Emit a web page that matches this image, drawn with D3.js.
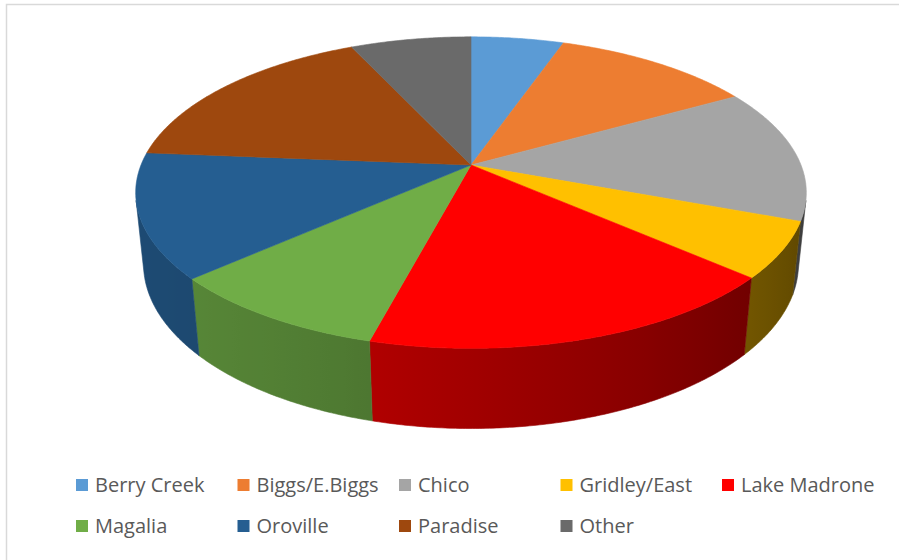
<!DOCTYPE html>
<html><head><meta charset="utf-8">
<script src="https://cdn.jsdelivr.net/npm/d3@7/dist/d3.min.js"></script>
<style>html,body{margin:0;padding:0;background:#fff;}svg{display:block;}</style>
</head><body>
<svg id="chart" width="899" height="560"></svg>
<script>
const categories = ["Berry Creek","Biggs/E.Biggs","Chico","Gridley/East","Lake Madrone","Magalia","Oroville","Paradise","Other"];
const values = [5.3, 11.5, 13.9, 5.8, 17.6, 9.3, 12.9, 16.8, 6.9];
const colors = ["#5B9BD5","#ED7D31","#A5A5A5","#FFC000","#FF0000","#70AD47","#255E91","#9E480E","#6A6A6A"];

const W = 899, Hgt = 560;
const svg = d3.select("#chart");
const defs = svg.append("defs");

// chart border (extends beyond the photographed area)
svg.append("rect").attr("x",6.5).attr("y",4.5).attr("width",W+10).attr("height",Hgt+10)
  .attr("fill","#fff").attr("stroke","#d9d9d9").attr("stroke-width",1.5);

// perspective projection of a tilted cylinder
const cx = 471, cy = 165, FX = 1650, FY = 1627, DIST = 5, TH = 0.25;
const tilt = Math.asin(0.4636), S = Math.sin(tilt), C = Math.cos(tilt);
function proj(theta, depth){
  const x = Math.sin(theta), z = -Math.cos(theta), y = -depth*TH;
  const d = DIST - (y*S + z*C);
  return [cx + FX*x/d, cy + FY*(z*S - y*C)/d];
}
const line = d3.line().curve(d3.curveLinear);

const arcs = d3.pie().sort(null).value(d => d)(values);
const step = Math.PI/360;
const visMin = Math.acos(-1/(DIST*C)), visMax = 2*Math.PI - visMin;
const lightAng = 250*Math.PI/180;
function shade(col, theta){
  const f = 0.555 + 0.236*Math.cos(theta - lightAng);
  const c = d3.rgb(col);
  return d3.rgb(c.r*f, c.g*f, c.b*f).formatHex();
}

const gSide = svg.append("g");
arcs.forEach((a,i) => {
  const a0 = Math.max(a.startAngle, visMin), a1 = Math.min(a.endAngle, visMax);
  if (a1 <= a0) return;
  const n = Math.max(2, Math.ceil((a1-a0)/step));
  const topPts = [], botPts = [];
  for (let k=0;k<=n;k++){
    const t = a0 + (a1-a0)*k/n;
    topPts.push(proj(t,0)); botPts.push(proj(t,1));
  }
  const xs = topPts.map(p=>p[0]);
  const xMin = d3.min(xs), xMax = d3.max(xs);
  const off = d3.scaleLinear().domain([xMin, xMax]).range([0,1]);
  const gid = "side"+i;
  const grad = defs.append("linearGradient").attr("id",gid)
    .attr("gradientUnits","userSpaceOnUse")
    .attr("x1",xMin).attr("x2",xMax).attr("y1",0).attr("y2",0);
  const stops = [];
  for (let k=0;k<=n;k+=4){
    const t = a0 + (a1-a0)*k/n;
    stops.push({o: off(topPts[k][0]), c: shade(colors[i], t)});
  }
  stops.push({o: off(topPts[n][0]), c: shade(colors[i], a1)});
  stops.sort((p,q)=>p.o-q.o);
  stops.forEach(s => grad.append("stop").attr("offset", s.o).attr("stop-color", s.c));
  gSide.append("path")
    .attr("d", line(topPts.concat(botPts.slice().reverse())) + "Z")
    .attr("fill", `url(#${gid})`).attr("stroke", `url(#${gid})`).attr("stroke-width", 0.6);
});

const gTop = svg.append("g");
arcs.forEach((a,i) => {
  const pts = [[cx, cy]];
  const n = Math.max(2, Math.ceil((a.endAngle-a.startAngle)/step));
  for (let k=0;k<=n;k++){
    pts.push(proj(a.startAngle + (a.endAngle-a.startAngle)*k/n, 0));
  }
  gTop.append("path").attr("d", line(pts)+"Z")
    .attr("fill", colors[i]).attr("stroke", colors[i]).attr("stroke-width", 0.6);
});

// legend
const perRow = 5;
const colX = d3.scaleLinear().domain([0, perRow-1]).range([76, 722]);
const rowY = d3.scaleLinear().domain([0,1]).range([479, 520]);
const lg = svg.append("g");
categories.forEach((name,i) => {
  const cxL = colX(i % perRow), cyL = rowY(Math.floor(i/perRow));
  lg.append("rect").attr("x",cxL).attr("y",cyL).attr("width",12).attr("height",12).attr("fill",colors[i]);
  lg.append("text").attr("x",cxL+19).attr("y",cyL+13)
    .attr("font-family","'Open Sans', sans-serif").attr("font-size",20)
    .attr("fill","#595959").text(name);
});
</script>
</body></html>
